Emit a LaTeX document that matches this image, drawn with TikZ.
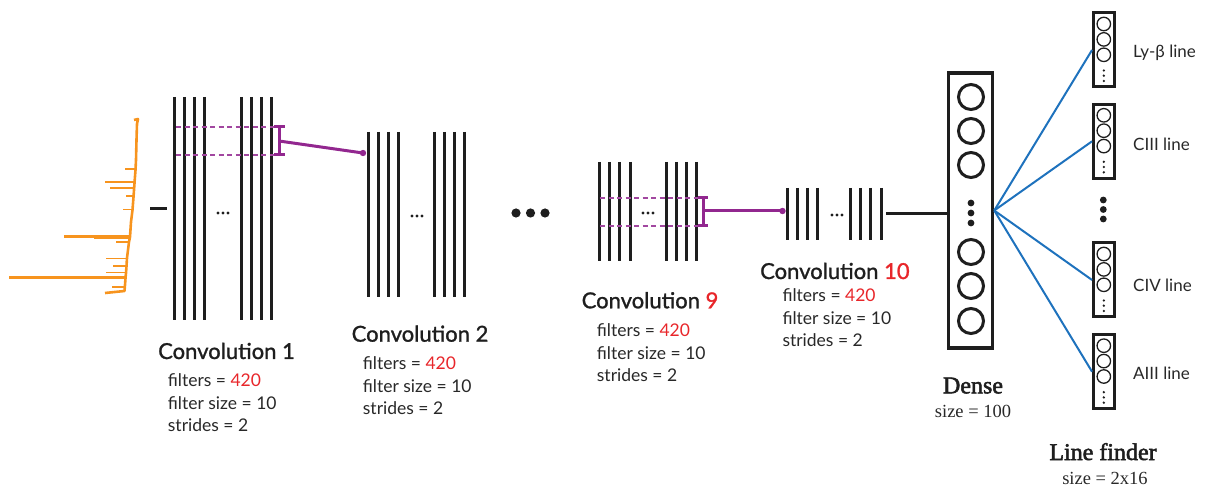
\documentclass[tikz,border=0pt]{standalone}
\usepackage{fontspec}
\setmainfont{Lato}
\newfontfamily\titlefont[FakeBold=1.2]{Lato}
\newfontfamily\serifrm{Liberation Serif}
\newfontfamily\serifbf[FakeBold=2.2]{Liberation Serif}
\definecolor{orng}{RGB}{247,148,30}
\definecolor{purp}{RGB}{146,39,143}
\definecolor{blu}{RGB}{30,114,189}
\definecolor{redn}{RGB}{232,38,42}
\definecolor{ink}{RGB}{30,30,30}
\definecolor{txt}{RGB}{40,40,40}
\tikzset{
  convline/.style={line width=3pt, draw=ink},
  smalldot/.style={fill=ink, draw=none},
  bigdot/.style={fill=ink, draw=none},
  title/.style={anchor=base west, inner sep=0pt, font=\titlefont\fontsize{22}{26}\selectfont, text=ink},
  info/.style={anchor=base west, inner sep=0pt, font=\fontsize{17.5}{21}\selectfont, text=txt},
  sertitle/.style={anchor=base, inner sep=0pt, font=\serifbf\fontsize{24}{28}\selectfont, text=ink},
  serinfo/.style={anchor=base, inner sep=0pt, font=\serifrm\fontsize{18.5}{22}\selectfont, text=txt},
  dashpurp/.style={draw=purp!85, line width=1.2pt, dash pattern=on 5pt off 3.5pt},
  bracket/.style={draw=purp, line width=3pt},
  purpconn/.style={draw=purp, line width=3pt},
  densebox/.style={draw=ink, line width=3.5pt, minimum width=44pt, minimum height=275pt, inner sep=0pt},
  neuron/.style={draw=ink, line width=3pt, circle, minimum size=25pt, inner sep=0pt},
  lfbox/.style={draw=ink, line width=3pt, minimum width=20.5pt, minimum height=74pt, inner sep=0pt},
  lfneuron/.style={draw=ink, line width=1.3pt, circle, minimum size=13.5pt, inner sep=0pt},
  blueconn/.style={draw=blu, line width=2pt},
  lflabel/.style={anchor=west, inner sep=0pt, font=\fontsize{17}{20}\selectfont, text=txt},
  spec/.style={draw=orng, line width=1.6pt, line join=round},
}
\begin{document}
\begin{tikzpicture}[x=1pt,y=-1pt]
\useasboundingbox (0,0) rectangle (1213,486);

% ---------- input spectrum ----------
\draw[spec, line width=2.6pt] (134,120) -- (138,119) -- (137,124) -- (136.5,140) -- (136,160) -- (135.5,170) -- (134.5,183)
  -- (134,190) -- (133.5,197) -- (132.5,210) -- (131,222) -- (130,237) -- (129,242) -- (128,250)
  -- (127,258) -- (126.5,266) -- (126,273) -- (125.5,278) -- (125,285) -- (124.5,291) -- (105,293);
\draw[spec, line width=2pt] (135.5,169.5) -- (125,169.5);
\draw[spec, line width=2.2pt] (134.5,182) -- (105,182);
\draw[spec, line width=2pt] (134,188.5) -- (110,188.5);
\draw[spec, line width=1.6pt] (133.5,196) -- (126,196);
\draw[spec, line width=1.6pt] (132.5,209.5) -- (122.5,209.5);
\draw[spec, line width=2.6pt] (130,236.5) -- (64,236.5);
\draw[spec, line width=2pt] (130,238.5) -- (94,238.5);
\draw[spec, line width=1.6pt] (129,242) -- (115.5,242);
\draw[spec, line width=1.6pt] (127,258.5) -- (106,258.5);
\draw[spec, line width=2pt] (126.5,266.5) -- (113,266.5);
\draw[spec, line width=1.6pt] (126,272.5) -- (106,272.5);
\draw[spec, line width=2.2pt] (125.5,277.5) -- (9,277.5);
\draw[spec, line width=1.6pt] (125,287) -- (112,287);

% ---------- input to conv1 ----------
\coordinate (inp) at (150,209);
\coordinate (c1in) at (167,209);
\draw[line width=3pt, draw=ink] (inp) -- (c1in);

% ---------- Convolution 1 ----------
\foreach \x in {174,184,194,204,241,251,261,271} \draw[convline] (\x,97) -- (\x,320);
\foreach \x in {218,223,228} \fill[smalldot] (\x,213) circle (1.6);
\draw[dashpurp] (176,127) -- (276,127);
\draw[dashpurp] (176,155) -- (276,155);
\coordinate (b1t) at (279,127);
\coordinate (b1b) at (279,155);
\coordinate (b1m) at (279,141);
\draw[bracket] (b1t) -- (b1b);
\draw[bracket] (274,127) -- (285,127);
\draw[bracket] (274,155) -- (285,155);
\coordinate (c2in) at (363,153);
\draw[purpconn] (b1m) -- (c2in);
\fill[purp] (c2in) circle (3.2);

\node[title] (t1) at (158,359) {Convolution 1};
\node[info] (f1) at (167.7,386.7) {filters = \textcolor{redn}{420}};
\node[info] (s1) at (167.7,409.3) {filter size = 10};
\node[info] (r1) at (167.7,431.7) {strides = 2};

% ---------- Convolution 2 ----------
\foreach \x in {368,378,388,398,434,444,454,464} \draw[convline] (\x,132) -- (\x,297);
\foreach \x in {412,417,422} \fill[smalldot] (\x,216) circle (1.6);

\node[title] (t2) at (351.5,341.7) {Convolution 2};
\node[info] (f2) at (362.7,370) {filters = \textcolor{redn}{420}};
\node[info] (s2) at (362.7,392.3) {filter size = 10};
\node[info] (r2) at (362.7,414.3) {strides = 2};

% ---------- big dots ----------
\foreach \x in {516,530.5,545} \fill[bigdot] (\x,213) circle (4.6);

% ---------- Convolution 9 ----------
\foreach \x in {599,609,619,630,666,676,686,696} \draw[convline] (\x,162) -- (\x,261);
\foreach \x in {643,648,653} \fill[smalldot] (\x,213) circle (1.6);
\draw[dashpurp] (600,198) -- (700,198);
\draw[dashpurp] (600,226) -- (700,226);
\coordinate (b9t) at (703,198);
\coordinate (b9b) at (703,226);
\coordinate (b9m) at (703,211);
\draw[bracket] (b9t) -- (b9b);
\draw[bracket] (698,198) -- (708,198);
\draw[bracket] (698,226) -- (708,226);
\coordinate (c10in) at (782.5,211);
\draw[purpconn] (b9m) -- (c10in);
\fill[purp] (c10in) circle (3.2);

\node[title] (t9) at (581.5,308.3) {Convolution \textcolor{redn}{9}};
\node[info] (f9) at (596.7,336.7) {filters = \textcolor{redn}{420}};
\node[info] (s9) at (596.7,359.3) {filter size = 10};
\node[info] (r9) at (596.7,381.7) {strides = 2};

% ---------- Convolution 10 ----------
\foreach \x in {787,797,807,817,850,860,870,881} \draw[convline] (\x,188) -- (\x,240);
\foreach \x in {832,837,842} \fill[smalldot] (\x,215) circle (1.6);
\coordinate (c10out) at (886,213.3);

\node[title] (t10) at (760,279) {Convolution \textcolor{redn}{10}};
\node[info] (f10) at (782.3,301.7) {filters = \textcolor{redn}{420}};
\node[info] (s10) at (782.3,324.5) {filter size = 10};
\node[info] (r10) at (782.3,346.7) {strides = 2};

% ---------- Dense ----------
\node[densebox] (dense) at (970.5,210.5) {};
\draw[line width=2.5pt, draw=ink] (c10out) -- (dense.west |- c10out);
\foreach \y [count=\i] in {97,131,165,252,286,321} \node[neuron] (n\i) at (971,\y) {};
\foreach \y in {203,213,223} \fill[bigdot] (971,\y) circle (3.4);
\node[sertitle] (dl) at (973,393.3) {Dense};
\node[serinfo] (ds) at (973,417.7) {size = 100};

% ---------- Line finder ----------
\foreach \yc/\nm in {50/lf1,141.3/lf2,280/lf3,371.7/lf4}{
  \node[lfbox] (\nm) at (1103.8,\yc) {};
  \foreach \o [count=\j] in {-26,-10.6,4.8} \node[lfneuron] (\nm c\j) at (1103.8,\yc+\o) {};
  \foreach \o in {20.5,25.7,31} \fill[ink] (1103.8,\yc+\o) circle (1.3);
  \draw[blueconn] (dense.east) -- (\nm.west);
}
\foreach \y in {200,209.5,219} \fill[bigdot] (1103.3,\y) circle (3.4);

\node[lflabel] (l1) at (1133,53) {Ly-β line};
\node[lflabel] (l2) at (1133,144) {CIII line};
\node[lflabel] (l3) at (1133,285) {CIV line};
\node[lflabel] (l4) at (1133,373) {AIII line};

\node[sertitle] (lft) at (1103,460) {Line finder};
\node[serinfo] (lfs) at (1105,484) {size = 2x16};
\end{tikzpicture}
\end{document}
